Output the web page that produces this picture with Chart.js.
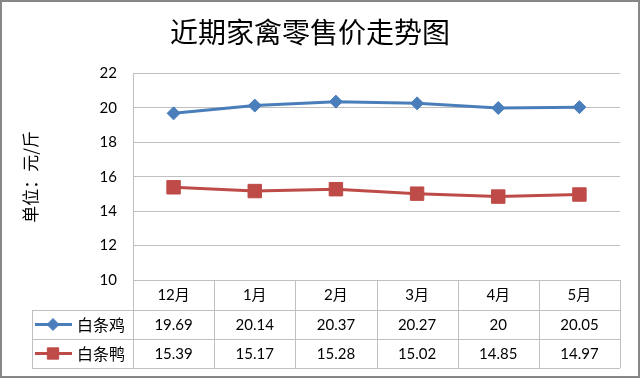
<!DOCTYPE html>
<html>
<head>
<meta charset="utf-8">
<script src="https://cdn.jsdelivr.net/npm/chart.js@4"></script>
<style>
    html, body { margin: 0; padding: 0; background: #fff; }
    #wrap { width: 640px; height: 378px; position: relative; }
</style>
</head>
<body>
<div id="wrap"><canvas id="myChart"></canvas></div>
<script>
const months = ['12月', '1月', '2月', '3月', '4月', '5月'];
const chickenPrice = [19.69, 20.14, 20.37, 20.27, 20, 20.05];
const duckPrice = [15.39, 15.17, 15.28, 15.02, 14.85, 14.97];
const yTicks = [10, 12, 14, 16, 18, 20, 22];
const seriesNames = ['白条鸡', '白条鸭'];

const numFont = "Lato, 'Noto Sans CJK SC', sans-serif";
const cjkFont = "'Noto Sans CJK SC', sans-serif";
const gridGray = '#bfbfbf';

// data table under the plot (Excel style), drawn from the x scale
const dataTable = {
    id: 'dataTable',
    afterDraw(chart) {
        const ctx = chart.ctx;
        const xs = chart.scales.x;
        const area = chart.chartArea;
        const half = (xs.getPixelForValue(1) - xs.getPixelForValue(0)) / 2;
        const rows = [area.bottom, area.bottom + 30, area.bottom + 59, area.bottom + 88];
        const legendLeft = 32;

        ctx.save();
        ctx.strokeStyle = gridGray;
        ctx.lineWidth = 1;
        ctx.beginPath();
        // horizontal lines
        for (let r = 1; r < rows.length; r++) {
            ctx.moveTo(legendLeft, Math.round(rows[r]) + 0.5);
            ctx.lineTo(area.right, Math.round(rows[r]) + 0.5);
        }
        // column lines
        for (let i = 0; i <= months.length; i++) {
            const x = Math.round(xs.getPixelForValue(i) - half) + 0.5;
            ctx.moveTo(x, rows[0]);
            ctx.lineTo(x, rows[3]);
        }
        ctx.moveTo(legendLeft + 0.5, rows[1]);
        ctx.lineTo(legendLeft + 0.5, rows[3]);
        ctx.stroke();

        // values + legend keys
        chart.data.datasets.forEach(function(ds, d) {
            const cy = (rows[d + 1] + rows[d + 2]) / 2;
            ctx.fillStyle = '#000';
            ctx.font = '15px ' + numFont;
            ctx.textAlign = 'center';
            ctx.textBaseline = 'middle';
            ds.data.forEach(function(v, i) {
                ctx.fillText(String(v), xs.getPixelForValue(i), cy + 1);
            });

            ctx.strokeStyle = ds.borderColor;
            ctx.lineWidth = 3;
            ctx.beginPath();
            ctx.moveTo(legendLeft + 3, cy);
            ctx.lineTo(legendLeft + 40, cy);
            ctx.stroke();
            ctx.fillStyle = ds.pointBackgroundColor;
            ctx.strokeStyle = ds.pointBorderColor;
            ctx.lineWidth = 1;
            Chart.helpers.drawPoint(ctx, {
                pointStyle: ds.pointStyle,
                radius: ds.pointStyle === 'rect' ? 8 : 6,
                borderWidth: 1,
                rotation: 0
            }, legendLeft + 21, cy);

            ctx.fillStyle = '#000';
            ctx.font = '16px ' + cjkFont;
            ctx.textAlign = 'left';
            ctx.fillText(ds.label, legendLeft + 45, cy);
        });

        // outer frame
        ctx.strokeStyle = '#878787';
        ctx.lineWidth = 2;
        ctx.strokeRect(1, 1, chart.width - 2, chart.height - 2);
        ctx.restore();
    }
};

const ctx = document.getElementById('myChart').getContext('2d');
const chart = new Chart(ctx, {
    type: 'line',
    data: {
        labels: months,
        datasets: [
            {
                label: seriesNames[0],
                data: chickenPrice,
                borderColor: '#4a7ebb',
                backgroundColor: '#4a7ebb',
                pointBackgroundColor: '#4a7ebb',
                pointBorderColor: '#4a7ebb',
                borderWidth: 3,
                pointStyle: 'rectRot',
                pointRadius: 6.5,
                pointBorderWidth: 1,
                tension: 0
            },
            {
                label: seriesNames[1],
                data: duckPrice,
                borderColor: '#be4b48',
                backgroundColor: '#be4b48',
                pointBackgroundColor: '#be4b48',
                pointBorderColor: '#be4b48',
                borderWidth: 3,
                pointStyle: 'rect',
                pointRadius: 9.5,
                pointBorderWidth: 1,
                tension: 0
            }
        ]
    },
    options: {
        responsive: true,
        maintainAspectRatio: false,
        animation: false,
        devicePixelRatio: 1,
        layout: { padding: { top: 0, left: 0, right: 20, bottom: 0 } },
        plugins: {
            legend: { display: false },
            tooltip: { enabled: false },
            title: {
                display: true,
                text: '近期家禽零售价走势图',
                color: '#000',
                font: { family: cjkFont, size: 28, weight: 'normal' },
                padding: { top: 16, bottom: 24 }
            }
        },
        scales: {
            x: {
                offset: true,
                grid: { display: false, drawTicks: false },
                border: { display: true, color: gridGray },
                ticks: { color: '#000', font: { family: numFont, size: 15 }, padding: 6 },
                afterFit: function(scale) { scale.height = 98; }
            },
            y: {
                min: 10,
                max: 22,
                afterBuildTicks: function(scale) {
                    scale.ticks = yTicks.map(v => ({ value: v }));
                },
                grid: { color: gridGray, drawTicks: false },
                border: { display: true, color: gridGray },
                ticks: { color: '#000', font: { family: numFont, size: 15 }, padding: 16 },
                title: {
                    display: true,
                    text: '单位：元/斤',
                    color: '#000',
                    font: { family: cjkFont, size: 17 },
                    padding: { top: 20 }
                },
                afterFit: function(scale) { scale.width = 133; }
            }
        }
    },
    plugins: [dataTable]
});
</script>
</body>
</html>
